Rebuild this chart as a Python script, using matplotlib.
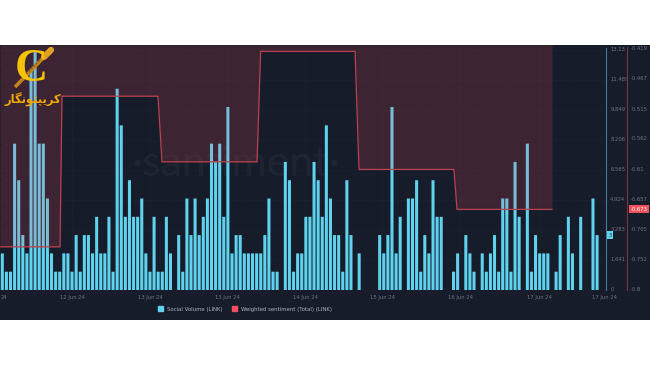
import matplotlib
matplotlib.use('Agg')
import matplotlib.pyplot as plt
from matplotlib.patches import Patch
from matplotlib.lines import Line2D

# social volume, one bar per step
social_volume = [2,1,1,8,6,3,2,12,13,8,8,5,2,1,1,2,2,1,3,1,3,3,2,4,2,2,4,1,11,9,
                 4,6,4,4,5,2,1,4,1,1,4,2,0,3,1,5,3,5,3,4,5,8,7,8,
                 4,10,2,3,3,2,2,2,2,2,3,5,1,1,0,7,6,1,2,2,4,4,7,6,4,9,5,3,3,1,
                 6,3,0,2,0,0,0,0,3,2,3,10,2,4,0,5,5,6,1,3,2,
                 6,4,4,0,0,1,2,0,3,2,1,0,2,1,2,3,1,5,5,1,7,4,0,8,1,3,2,2,2,0,
                 1,3,0,4,2,0,4,0,0,5,3]

# weighted sentiment, stepped
sentiment_x = [-0.56,14.07,14.55,37.96,38.93,62.1,62.97,86,86.96,110.1,110.85,134]
sentiment_y = [-0.732,-0.732,-0.4946,-0.4946,-0.598,-0.598,-0.424,-0.424,-0.61,-0.61,-0.673,-0.673]

date_pos = [-0.45,17,36,55,73.8,92.6,111.6,131,146.9]
date_labels = ['24','12 Jun 24','13 Jun 24','13 Jun 24','14 Jun 24','15 Jun 24','16 Jun 24','17 Jun 24','17 Jun 24']
vol_ticks = [0,1.641,3.283,4.924,6.565,8.206,9.849,11.489,13.13]
vol_labels = ['0','1.641','3.283','4.924','6.565','8.206','9.849','11.489','13.13']
sent_ticks = [-0.8,-0.752,-0.705,-0.657,-0.61,-0.562,-0.515,-0.467,-0.419]
sent_labels = ['-0.8','-0.752','-0.705','-0.657','-0.61','-0.562','-0.515','-0.467','-0.419']

BG = '#171c2b'
CYAN = '#5fd3ee'
RED = '#b8424e'
GREY = '#6f7585'

fig = plt.figure(figsize=(6.5,3.65),dpi=100,facecolor='white')
ax = fig.add_axes([0,45/365,1,275/365])
ax.set_facecolor(BG)
ax.set_xlim(-0.56,157.9)
ax.set_ylim(-1.64,13.39)
for s in ax.spines.values():
    s.set_visible(False)
ax.tick_params(left=False,bottom=False,labelleft=False,labelbottom=False)

# grid
for t in vol_ticks[1:]:
    ax.plot([-0.56,147.1],[t,t],color='#262c3c',lw=0.4,ls=(0,(2,3)),zorder=1)
for d in date_pos[1:-1]:
    ax.plot([d,d],[0,13.39],color='#262c3c',lw=0.4,ls=(0,(2,3)),zorder=1)

ax.text(57,6.9,'·santiment·',color='#1f2433',fontsize=31,family='Lato',ha='center',va='center',zorder=1)

# zero steps get no bar at all
xs = [i for i,v in enumerate(social_volume) if v>0]
vs = [v for v in social_volume if v>0]
bars = ax.bar(xs,vs,width=0.74,color=CYAN,linewidth=0,zorder=2)
for b in bars:
    b.set_snap(False)

ax2 = ax.twinx()
ax2.set_ylim(-0.8473,-0.4139)
for s in ax2.spines.values():
    s.set_visible(False)
ax2.tick_params(right=False,labelright=False)
ax2.fill_between(sentiment_x,sentiment_y,-0.4139,color=(1,0.3,0.36),alpha=0.165,linewidth=0,zorder=3)
ax2.plot(sentiment_x,sentiment_y,color=RED,lw=0.9,zorder=4)

# axis lines on the right
ax.plot([147.1,147.1],[0,13.25],color='#3e7f90',lw=0.8,zorder=5)
ax2.plot([152.2,152.2],[-0.8,-0.417],color='#7c3540',lw=0.8,zorder=5)

for t,l in zip(vol_ticks,vol_labels):
    ax.text(148.2,t,l,color=GREY,fontsize=3.8,va='center',ha='left',zorder=6)
for t,l in zip(sent_ticks,sent_labels):
    ax2.text(153.2,t,l,color=GREY,fontsize=3.8,va='center',ha='left',zorder=6)
for d,l in zip(date_pos,date_labels):
    ax.text(d,-0.3,l,color=GREY,fontsize=3.8,va='top',ha='left' if l=='24' else 'center',zorder=6)

# last value tags
ax.text(148.1,social_volume[-1],str(social_volume[-1]),color='#17313d',fontsize=3.6,va='center',ha='center',zorder=7,
        bbox=dict(boxstyle='square,pad=0.3',fc=CYAN,ec='none'))
ax2.text(155.2,sentiment_y[-1],str(sentiment_y[-1]),color='white',fontsize=3.8,va='center',ha='center',zorder=7,
         bbox=dict(boxstyle='square,pad=0.3',fc='#f0515c',ec='none'))

# legend
handles = [Patch(color=CYAN,label='Social Volume (LINK)'),Patch(color='#f0515c',label='Weighted sentiment (Total) (LINK)')]
leg = fig.legend(handles=handles,ncol=2,loc='center',bbox_to_anchor=(245/650,1-309/365),frameon=False,
                 fontsize=3.9,handlelength=0.9,handleheight=0.9,handletextpad=0.6,columnspacing=1.9,labelcolor='#aeb3bf')

# logo on top, in pixel coords
ov = fig.add_axes([0,0,1,1],facecolor='none')
ov.set_xlim(0,650)
ov.set_ylim(365,0)
ov.axis('off')
ov.text(31,70,'C',color='#f5c400',fontsize=33,weight='bold',family='Liberation Serif',ha='center',va='center')
ov.add_line(Line2D([15,48],[87,53],color='#c4821c',lw=2.6,solid_capstyle='butt'))
ov.add_line(Line2D([44,51],[57,50],color='#e0a020',lw=4.5,solid_capstyle='round'))
ov.add_line(Line2D([26,40],[74,60],color='#8a5a1c',lw=1,ls=(0,(1.5,1))))
# persian name, glyphs in visual order because there is no shaping here
ov.text(33,100,'\ufead\ufe8e\ufb95\ufee7\ufeee\ufe98\ufb59\ufbfe\ufeae\ufb90',color='#f0a800',fontsize=8.3,weight='bold',
        family='DejaVu Sans',ha='center',va='center')

fig.savefig('out.png',dpi=100,facecolor='white')
